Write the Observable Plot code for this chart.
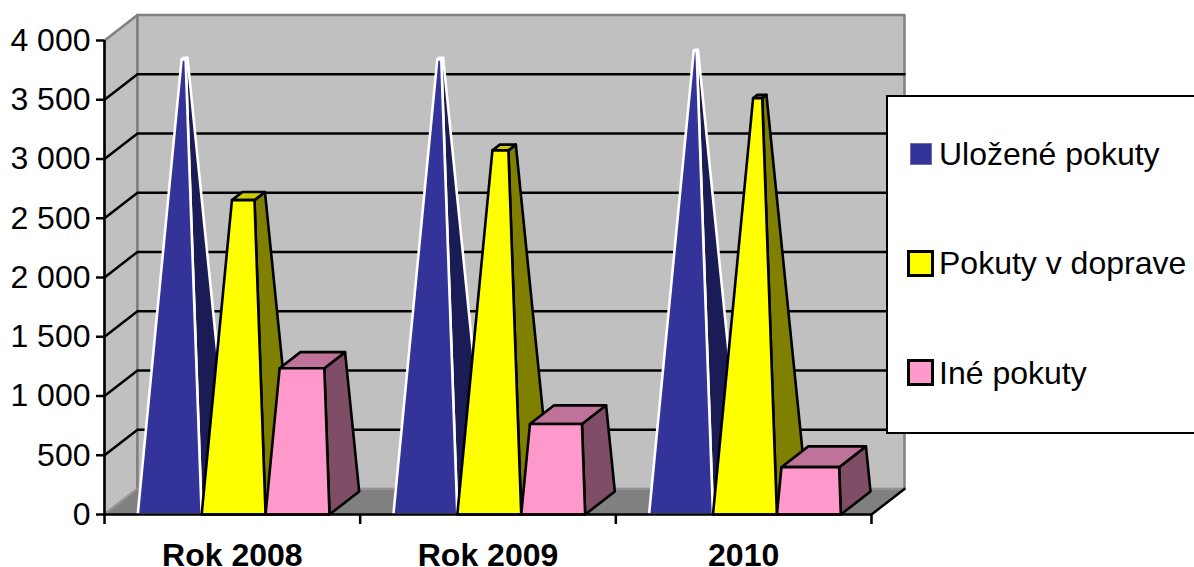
<!DOCTYPE html>
<html><head><meta charset="utf-8">
<script src="https://cdn.jsdelivr.net/npm/d3@7"></script>
<script src="https://cdn.jsdelivr.net/npm/@observablehq/plot@0.6"></script>
<style>
html,body{margin:0;padding:0;background:#fff;overflow:hidden;width:1194px;height:567px}
#wrap{position:relative;width:1194px;height:567px;font-family:"Liberation Sans",Arial,sans-serif}
#legend{position:absolute;left:886px;top:95px;width:340px;height:335px;background:#fff;border:2.5px solid #000}
.sw{position:absolute;box-sizing:border-box}
.lb{position:absolute;left:939px;font-size:32px;line-height:36px;white-space:nowrap;color:#000}
</style></head><body>
<div id="wrap"></div>
<script>
const categories = ["Rok 2008", "Rok 2009", "2010"];
const ulozene = [3750, 3750, 3820];
const doprava = [2590, 3000, 3430];
const ine = [1205, 745, 390];
const yTicks = [0, 500, 1000, 1500, 2000, 2500, 3000, 3500, 4000];
const yTickLabels = ["0", "500", "1 000", "1 500", "2 000", "2 500", "3 000", "3 500", "4 000"];
const gridValues = [500, 1000, 1500, 2000, 2500, 3000, 3500];
const seriesNames = ["Uložené pokuty", "Pokuty v doprave", "Iné pokuty"];
const frontColors = ["#333399", "#ffff00", "#ff99cc"];
const sideColors = ["#1b1b55", "#808000", "#804d66"];
const topColors = ["#26267a", "#cccc00", "#c0739a"];
const edgeColors = ["#ffffff", "#000000", "#000000"];

const seriesValues = [ulozene, doprava, ine];
const axisMax = 4000;          // pyramids are scaled to the axis maximum
const depthX = 0.129;          // oblique projection: one unit of depth, in x units
const depthY = 216;            // ... and in value units
const P = (x, v, z) => ({x: x + z * depthX, y: v + z * depthY});
const face = (id, fill, stroke, sw, pts) =>
  pts.map(([x, v, z]) => ({...P(x, v, z), id, fill, stroke, sw}));

// walls & floor
const walls = [
  ...face("left", "#c0c0c0", "#808080", 2.5, [[0,0,0],[0,0,1],[0,axisMax,1],[0,axisMax,0]]),
  ...face("back", "#c0c0c0", "#808080", 2.5, [[0,0,1],[3,0,1],[3,axisMax,1],[0,axisMax,1]]),
  ...face("floor", "#808080", "#999999", 1.5, [[0,0,0],[3,0,0],[3,0,1],[0,0,1]])
];
const grid = gridValues.flatMap(v =>
  [[0,v,0],[0,v,1],[3,v,1]].map(([x,y,z]) => ({...P(x,y,z), id:"g"+v})));

// truncated pyramids
const barW = 0.25, gap = 0.13, baseDepth = 0.9;
const faces = [];
categories.forEach((c, ci) => seriesValues.forEach((vals, si) => {
  const v = vals[ci], t = v / axisMax;
  const xc = ci + gap + (si + 0.5) * barW, hw = barW / 2;
  const x0 = xc - hw, x1 = xc + hw, tw = hw * (1 - t);
  const zf = baseDepth / 2 * t, zb = baseDepth - zf;
  const id = ci + "-" + si + "-";
  const sw = 2.6;
  faces.push(
    ...face(id+"side", sideColors[si], edgeColors[si], sw,
      [[x1,0,0],[x1,0,baseDepth],[xc+tw,v,zb],[xc+tw,v,zf]]),
    ...face(id+"top", topColors[si], edgeColors[si], sw,
      [[xc-tw,v,zf],[xc+tw,v,zf],[xc+tw,v,zb],[xc-tw,v,zb]]),
    ...face(id+"front", frontColors[si], edgeColors[si], sw,
      [[x0,0,0],[x1,0,0],[xc+tw,v,zf],[xc-tw,v,zf]])
  );
}));

const poly = data => Plot.line(data, {x:"x", y:"y", z:"id", fill:"fill", stroke:"stroke",
  strokeWidth:"sw", curve:"linear-closed", strokeLinejoin:"round"});

const chart = Plot.plot({
  width: 1194, height: 567,
  marginLeft: 104, marginRight: 323, marginTop: 40, marginBottom: 53,
  style: {fontFamily: '"Liberation Sans", Arial, sans-serif', background: "transparent", color: "#000"},
  x: {domain: [0, 3]},
  y: {domain: [0, axisMax]},
  color: {type: "identity"},
  marks: [
    poly(walls),
    Plot.line(grid, {x:"x", y:"y", z:"id", stroke:"#000", strokeWidth:2.5}),
    poly(faces),
    Plot.line([P(3,0,0), P(3,0,1)], {x:"x", y:"y", stroke:"#000", strokeWidth:2.5}),
    Plot.ruleY([0], {stroke:"#000", strokeWidth:2.5}),
    Plot.ruleX([0], {stroke:"#000", strokeWidth:2.5}),
    Plot.axisY({ticks: yTicks, tickSize: 8, strokeWidth: 2.5, strokeOpacity: 1,
      tickFormat: () => "", label: null}),
    Plot.text(yTicks, {y: d => d, x: () => 0, text: (d, i) => yTickLabels[i], textAnchor: "end",
      dx: -14, fontSize: 32, fill: "#000"}),
    Plot.axisX({ticks: [0, 1, 2, 3], tickSize: 10, strokeWidth: 2.5, strokeOpacity: 1,
      tickFormat: () => "", label: null}),
    Plot.text(categories, {x: (d, i) => i + 0.5, y: () => 0, text: d => d, dy: 41,
      fontSize: 32, fontWeight: "bold", fill: "#000"})
  ]
});
const wrap = document.getElementById("wrap");
wrap.appendChild(chart);

// legend
const legend = document.createElement("div");
legend.id = "legend";
wrap.appendChild(legend);
const swatchStyle = [
  "left:910px;top:143px;width:22px;height:22px;border:1px solid #6a6ab5",
  "left:907px;top:250px;width:27px;height:27px;border:3px solid #000",
  "left:907px;top:359px;width:27px;height:27px;border:3px solid #000"
];
const labelTop = [136, 245, 355];
seriesNames.forEach((name, i) => {
  const s = document.createElement("div");
  s.className = "sw"; s.style.cssText = swatchStyle[i]; s.style.background = frontColors[i];
  wrap.appendChild(s);
  const l = document.createElement("div");
  l.className = "lb"; l.style.top = labelTop[i] + "px"; l.textContent = name;
  wrap.appendChild(l);
});
</script>
</body></html>
